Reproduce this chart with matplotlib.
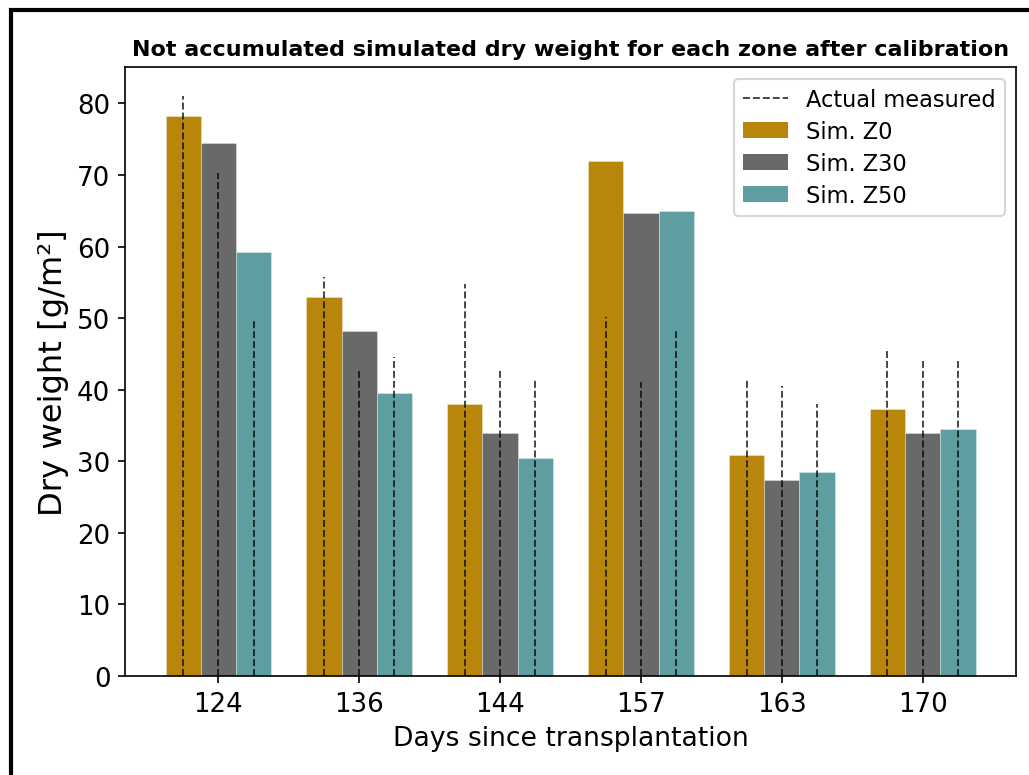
import matplotlib
matplotlib.use("Agg")
import matplotlib.pyplot as plt
import numpy as np
from matplotlib.lines import Line2D
from matplotlib.patches import Patch

days = ["124", "136", "144", "157", "163", "170"]
sim_z0 = [78.2, 52.9, 38.0, 72.0, 30.9, 37.3]
sim_z30 = [74.5, 48.2, 34.0, 64.7, 27.4, 33.9]
sim_z50 = [59.2, 39.5, 30.5, 65.0, 28.5, 34.5]
meas_z0 = [81.0, 55.7, 54.8, 50.2, 41.3, 45.8]
meas_z30 = [70.3, 42.9, 42.9, 41.1, 40.5, 44.5]
meas_z50 = [49.8, 44.6, 41.3, 48.5, 38.0, 44.4]

series = ["Sim. Z0", "Sim. Z30", "Sim. Z50"]
colors = ["#B8860B", "#696969", "#5F9EA0"]

DPI = 150
fig = plt.figure(figsize=(1029 / DPI, 776 / DPI), dpi=DPI)
ax = fig.add_axes([125 / 1029, 1 - 677 / 776, (1016 - 125) / 1029, (677 - 68.3) / 776])

x = np.arange(len(days))
w = 0.25
sims = [sim_z0, sim_z30, sim_z50]
meas = [meas_z0, meas_z30, meas_z50]
for i, (s, c, lab) in enumerate(zip(sims, colors, series)):
    pos = x + (i - 1) * w
    ax.bar(pos, s, width=w, color=c, edgecolor=(1, 1, 1, 0.6), linewidth=0.25, label=lab)
for i, m in enumerate(meas):
    pos = x + (i - 1) * w
    ax.vlines(pos, 0, m, colors="black", linestyles="--", linewidth=0.9, alpha=0.75,
              label="Actual measured" if i == 0 else None)

ax.set_xticks(x)
ax.set_xticklabels(days)
ax.tick_params(axis="both", labelsize=12.5)
ax.set_xlabel("Days since transplantation", fontsize=12.8)
ax.set_ylabel("Dry weight [g/m²]", fontsize=15.5)
ax.set_title("Not accumulated simulated dry weight for each zone after calibration",
             fontsize=10.7, fontweight="bold")

handles = [Line2D([0], [0], color="black", linestyle="--", linewidth=0.9, alpha=0.75)] + \
          [Patch(facecolor=c) for c in colors]
labels = ["Actual measured"] + series
ax.legend(handles, labels, loc="upper right", fontsize=10.8, labelspacing=0.4)

# figure frame (left and top edges visible)
fx = 10.5 / 1029
fy = 1 - 10.5 / 776
fig.add_artist(Line2D([fx, fx, 1.0], [0.0, fy, fy], transform=fig.transFigure,
                      color="black", linewidth=2.0, solid_joinstyle="miter"))

fig.savefig("out.png", dpi=DPI)
